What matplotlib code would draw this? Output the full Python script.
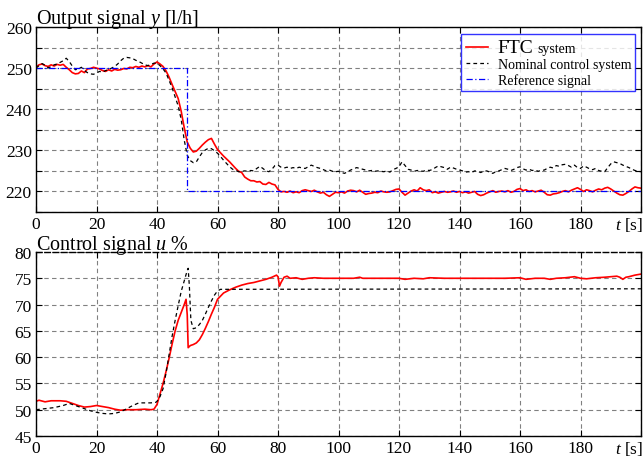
import numpy as np
import matplotlib
matplotlib.use('Agg')
from matplotlib import pyplot as plt

plt.rcParams['font.family'] = ['Liberation Serif', 'DejaVu Serif']
plt.rcParams['mathtext.fontset'] = 'custom'
plt.rcParams['mathtext.rm'] = 'Liberation Serif'
plt.rcParams['mathtext.it'] = 'Liberation Serif:italic'

# ---- output signal y [l/h], sampled every 1 s ----
t_y = np.arange(0, 201)
y_ftc = [250.3, 250.8, 251.0, 250.6, 250.4, 250.8, 250.5, 250.9, 250.7, 250.9,
         250.2, 249.6, 248.9, 248.6, 248.7, 249.3, 248.9, 249.8, 249.9, 250.2,
         250.0, 249.8, 249.4, 249.2, 249.6, 249.3, 249.7, 249.5, 249.6, 249.9,
         249.8, 250.2, 250.1, 250.4, 250.2, 250.5, 250.3, 250.6, 250.3, 251.0,
         251.5, 251.0, 250.4, 249.3, 247.8, 246.0, 244.3, 242.6, 239.5, 235.5,
         232.0, 230.5, 229.6, 229.8, 230.5, 231.3, 232.0, 232.6, 232.9, 231.5,
         230.2, 229.4, 228.6, 227.9, 227.2, 226.4, 225.6, 224.9, 224.6, 223.5,
         223.0, 222.6, 222.6, 222.3, 222.4, 221.8, 221.7, 222.2, 221.8, 221.6,
         220.5, 219.9, 220.0, 219.8, 220.1, 219.7, 219.9, 219.7, 220.2, 220.4,
         220.2, 220.0, 220.3, 219.9, 219.6, 219.8, 219.2, 218.8, 219.3, 219.8,
         219.7, 219.9, 219.6, 220.1, 220.3, 220.2, 219.9, 220.3, 219.8, 219.3,
         219.5, 219.6, 219.8, 219.7, 220.1, 219.9, 219.8, 219.9, 220.2, 220.5,
         220.6, 219.8, 219.1, 219.6, 220.1, 220.4, 220.1, 220.9, 220.4, 220.2,
         220.4, 219.7, 219.9, 219.6, 219.8, 220.0, 219.8, 219.9, 220.1, 219.8,
         220.0, 219.7, 219.9, 219.6, 219.8, 220.0, 219.3, 219.0, 219.2, 219.6,
         219.9, 220.2, 219.8, 220.0, 220.1, 219.9, 220.2, 219.8, 220.0, 220.5,
         220.7, 220.2, 220.4, 220.0, 220.2, 219.9, 220.1, 220.3, 219.8, 219.2,
         219.1, 219.4, 219.5, 219.7, 220.0, 220.2, 219.9, 220.3, 220.6, 220.9,
         220.5, 220.0, 220.4, 220.2, 219.9, 220.3, 220.6, 220.4, 220.8, 221.0,
         220.6, 220.1, 219.6, 219.2, 219.1, 219.5, 220.0, 220.6, 221.1, 220.9,
         220.8]
y_nom = [250.0, 250.6, 251.1, 250.7, 250.1, 250.3, 250.8, 251.0, 251.4, 251.8,
         252.4, 251.6, 250.5, 249.6, 249.8, 250.2, 249.4, 248.9, 248.6, 248.5,
         248.8, 249.2, 249.0, 249.4, 249.6, 250.0, 250.4, 251.0, 251.8, 252.4,
         252.6, 252.5, 252.3, 251.9, 251.6, 251.2, 250.8, 250.6, 250.9, 251.2,
         251.2, 250.6, 249.8, 248.8, 247.0, 245.2, 243.0, 240.8, 237.5, 232.5,
         228.8, 227.5, 227.0, 227.2, 228.4, 229.5, 230.1, 230.5, 230.4, 229.9,
         229.3, 228.5, 227.6, 226.8, 226.0, 225.4, 225.1, 224.8, 224.9, 225.0,
         224.9, 225.1, 225.0, 225.6, 226.1, 225.6, 225.0, 224.8, 225.4, 226.3,
         226.4, 225.9, 225.7, 225.9, 225.6, 225.8, 225.6, 225.9, 225.7, 225.6,
         226.0, 226.4, 226.1, 225.8, 225.6, 225.3, 225.0, 225.2, 224.9, 224.8,
         224.9, 224.6, 224.4, 224.8, 225.2, 225.5, 225.8, 225.6, 225.4, 225.2,
         225.0, 225.1, 224.9, 225.0, 224.9, 224.8, 225.0, 224.7, 225.3, 225.6,
         226.0, 227.2, 226.3, 225.4, 225.2, 224.9, 225.1, 225.0, 224.9, 225.2,
         225.1, 225.3, 225.8, 226.2, 226.0, 225.8, 225.4, 225.9, 225.7, 225.4,
         225.2, 225.0, 224.7, 224.8, 224.6, 225.0, 224.9, 224.6, 224.9, 225.0,
         224.7, 224.4, 224.8, 225.0, 225.3, 225.6, 225.4, 225.1, 225.4, 225.8,
         226.0, 225.5, 225.2, 225.4, 225.1, 225.2, 224.9, 225.1, 225.2, 225.6,
         225.9, 225.7, 226.3, 226.1, 226.5, 226.6, 226.3, 225.9, 226.4, 225.8,
         225.6, 226.2, 225.9, 225.5, 225.3, 225.6, 225.1, 224.9, 224.8, 225.8,
         226.7, 227.2, 227.0, 226.8, 226.4, 226.1, 225.8, 225.4, 225.1, 224.9,
         224.8]
t_ref = [0, 50, 50, 200]
y_ref = [250, 250, 220, 220]

# ---- control signal u % ----
t_u_ftc = [0, 1, 3, 5, 8, 10, 12, 14, 16, 18, 20, 22, 24, 26, 28, 30, 33, 36, 38, 39,
           40, 41, 42, 43, 44, 45, 46, 47, 48, 49, 49.6, 50, 50.3, 51, 52, 53, 54, 55,
           56, 57, 58, 59, 60, 62, 64, 66, 68, 70, 72, 74, 76, 78, 79.5, 80, 80.5, 81,
           82, 83, 84, 86, 88, 90, 92, 95, 100, 105, 107, 108, 115, 120, 122, 125,
           128, 130, 135, 140, 145, 150, 155, 160, 162, 165, 168, 170, 172, 175, 178,
           180, 182, 185, 188, 190, 192, 193, 194, 195, 196, 198, 200]
u_ftc = [51.6, 51.8, 51.5, 51.7, 51.7, 51.6, 51.2, 50.8, 50.5, 50.6, 50.8, 50.6, 50.4,
         50.1, 49.9, 50.0, 50.0, 50.1, 50.0, 50.1, 51.0, 53.0, 55.0, 57.3, 59.8, 62.5,
         65.0, 67.0, 68.5, 70.0, 71.0, 68.0, 61.8, 62.2, 62.4, 62.7, 63.3, 64.3, 65.5,
         66.8, 68.2, 69.5, 71.0, 72.2, 72.8, 73.3, 73.7, 74.0, 74.2, 74.5, 74.8, 75.2,
         75.6, 75.3, 73.5, 74.2, 75.2, 75.4, 75.0, 75.1, 74.8, 75.0, 75.1, 75.0, 75.0,
         75.0, 75.2, 75.0, 75.0, 75.0, 74.8, 75.0, 74.9, 75.1, 75.0, 75.0, 75.0, 75.0,
         75.0, 75.1, 74.8, 75.0, 75.0, 74.8, 75.0, 75.1, 75.3, 75.0, 74.9, 75.1, 75.2,
         75.3, 75.4, 75.2, 74.8, 75.2, 75.3, 75.6, 75.8]
t_u_nom = [0, 3, 6, 9, 11, 13, 16, 18, 20, 22, 24, 26, 28, 30, 32, 34, 36, 38, 39.6,
           40, 41, 42, 43, 44, 45, 46, 47, 48, 49, 50, 50.3, 50.7, 51.2, 52, 53, 54,
           55, 56, 57, 58, 59, 60, 61, 200]
u_nom = [50.0, 50.2, 50.4, 50.8, 51.2, 50.8, 50.2, 49.8, 49.5, 49.3, 49.2, 49.3, 49.6,
         50.2, 50.8, 51.3, 51.3, 51.3, 51.4, 51.6, 52.5, 54.0, 57.0, 60.5, 64.0, 67.0,
         69.8, 72.5, 74.5, 76.5, 76.9, 73.5, 67.0, 65.4, 65.6, 66.2, 67.0, 68.2, 69.5,
         70.7, 71.8, 72.6, 72.9, 73.0]

xticks = list(range(0, 181, 20))


def style_axes(ax, yticks, ylabels):
    ax.set_xlim(0, 200)
    ax.set_xticks(xticks + [200])
    ax.set_xticklabels([str(v) for v in xticks] + [''])
    ax.set_yticks(yticks)
    ax.set_yticklabels(ylabels)
    ax.tick_params(direction='in', top=True, right=True, labelsize=12.5,
                   length=4, width=0.8, pad=3)
    ax.grid(True, color='#808080', linestyle=(0, (4, 3)), linewidth=0.8)
    for s in ax.spines.values():
        s.set_linewidth(1.0)
        s.set_color('black')


fig = plt.figure(figsize=(6.44, 4.60), dpi=100)
ax1 = fig.add_axes([36 / 644, 1 - 213 / 460, 605 / 644, 185 / 460])
ax2 = fig.add_axes([36 / 644, 1 - 437 / 460, 605 / 644, 184 / 460])

l1, = ax1.plot(t_y, y_ftc, color='red', lw=1.2, label='FTC')
l2, = ax1.plot(t_y, y_nom, color='black', lw=0.9, linestyle=(0, (3, 2.5)),
               label='Nominal control system')
l3, = ax1.plot(t_ref, y_ref, color='blue', lw=0.9, linestyle=(0, (5, 2, 1, 2)),
               label='Reference signal')
ax1.set_ylim(215, 260)
yt1 = list(range(215, 261, 5))
style_axes(ax1, yt1, [str(v) if v % 10 == 0 else '' for v in yt1])
ax1.set_title('Output signal $y$ [l/h]', loc='left', fontsize=14.5, pad=3, x=0.0)

leg = ax1.legend(handles=[l1, l2, l3], loc='upper right', fontsize=10,
                 bbox_to_anchor=(0.995, 0.975), frameon=True, fancybox=False,
                 handlelength=1.6, borderpad=0.3, labelspacing=0.15,
                 handletextpad=0.7, borderaxespad=0.2)
leg.get_frame().set_edgecolor('blue')
leg.get_frame().set_linewidth(1.0)
ftc_text = leg.get_texts()[0]
ftc_text.set_fontsize(14)

ax2.plot(t_u_ftc, u_ftc, color='red', lw=1.2)
ax2.plot(t_u_nom, u_nom, color='black', lw=0.9, linestyle=(0, (3, 2.5)))
ax2.set_ylim(45, 80)
yt2 = list(range(45, 81, 5))
style_axes(ax2, yt2, [str(v) for v in yt2])
ax2.spines['top'].set_linestyle((0, (4, 2)))
ax2.set_title('Control signal $u$ %', loc='left', fontsize=14.5, pad=2, x=0.0)

for ax in (ax1, ax2):
    ax.text(1.003, -0.015, '$t$ [s]', transform=ax.transAxes, ha='right',
            va='top', fontsize=12.5)

# put the small "system" word after the big "FTC" in the legend
fig.canvas.draw()
bb = ftc_text.get_window_extent()
fig.text((bb.x1 + 4) / 644, (bb.y0 + 4) / 460, 'system', fontsize=10,
         va='baseline', ha='left')

fig.savefig('out.png', dpi=100)
